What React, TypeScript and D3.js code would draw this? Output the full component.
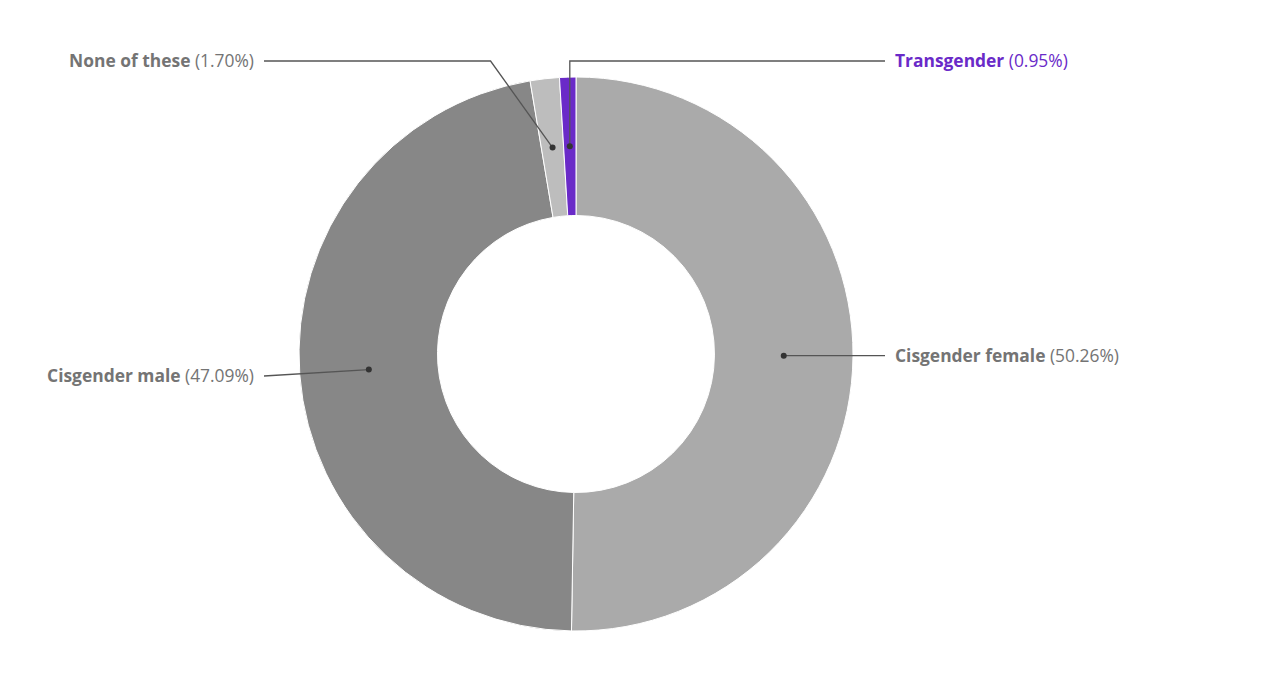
import { useEffect, useRef } from 'react';
import * as d3 from 'd3';

const categories = ['Cisgender female', 'Cisgender male', 'None of these', 'Transgender'];
const shares = [50.26, 47.09, 1.7, 0.95];
const sliceColors = ['#aaaaaa', '#878787', '#bdbdbd', '#6a2ac8'];
const labelColors = ['#747474', '#747474', '#747474', '#6a2ac8'];

const WIDTH = 1261;
const HEIGHT = 679;

export default function App() {
  const svgRef = useRef<SVGSVGElement>(null);

  useEffect(() => {
    document.body.style.margin = '0';
    if (!svgRef.current) return;

    const svg = d3.select(svgRef.current);
    svg.selectAll('*').remove();

    const cx = 576;
    const cy = 354;
    const outerR = 277;
    const innerR = 138.5;
    const midR = (innerR + outerR) / 2;

    const data = categories.map((name, i) => ({
      name,
      value: shares[i],
      color: sliceColors[i],
      labelColor: labelColors[i],
    }));

    const pie = d3.pie<typeof data[number]>().value(d => d.value).sort(null);
    const arcs = pie(data);

    const arc = d3.arc<d3.PieArcDatum<typeof data[number]>>()
      .innerRadius(innerR)
      .outerRadius(outerR);

    const g = svg.append('g').attr('transform', `translate(${cx},${cy})`);

    g.selectAll('.slice')
      .data(arcs)
      .enter()
      .append('path')
      .attr('class', 'slice')
      .attr('d', d => arc(d) as string)
      .attr('fill', d => d.data.color)
      .attr('stroke', '#fff')
      .attr('stroke-width', 1);

    // label layout: side and label line y (relative to centre)
    const topY = -outerR - 16;
    const layout = [
      { side: 1, y: null as number | null, elbow: null as number | null },
      { side: -1, y: 22, elbow: null },
      { side: -1, y: topY, elbow: -62 },
      { side: 1, y: topY, elbow: 0 },
    ];
    const leftX = -outerR - 35;
    const rightX = outerR + 32;

    arcs.forEach((a, i) => {
      const ang = (a.startAngle + a.endAngle) / 2;
      const px = Math.sin(ang) * midR;
      const py = -Math.cos(ang) * midR;
      const L = layout[i];
      const ly = L.y == null ? py : L.y;
      const endX = L.side > 0 ? rightX : leftX;

      const pts: [number, number][] = [[px, py]];
      if (L.elbow != null) {
        pts.push([px + L.elbow, ly]);
      }
      pts.push([endX, ly]);

      g.append('path')
        .attr('d', d3.line()(pts) as string)
        .attr('fill', 'none')
        .attr('stroke', '#555')
        .attr('stroke-width', 1.3);

      g.append('circle')
        .attr('cx', px)
        .attr('cy', py)
        .attr('r', 3)
        .attr('fill', '#333');

      const t = g.append('text')
        .attr('x', endX + L.side * 10)
        .attr('y', ly)
        .attr('dy', '0.35em')
        .attr('text-anchor', L.side > 0 ? 'start' : 'end')
        .attr('font-family', '"Open Sans", "Noto Sans", sans-serif')
        .attr('font-size', '17.4px')
        .attr('fill', a.data.labelColor);
      t.append('tspan').attr('font-weight', 700).text(a.data.name);
      t.append('tspan').attr('font-weight', 400).text(` (${a.data.value.toFixed(2)}%)`);
    });
  }, []);

  return <svg ref={svgRef} width={WIDTH} height={HEIGHT} style={{ display: 'block', background: '#fff' }} />;
}
